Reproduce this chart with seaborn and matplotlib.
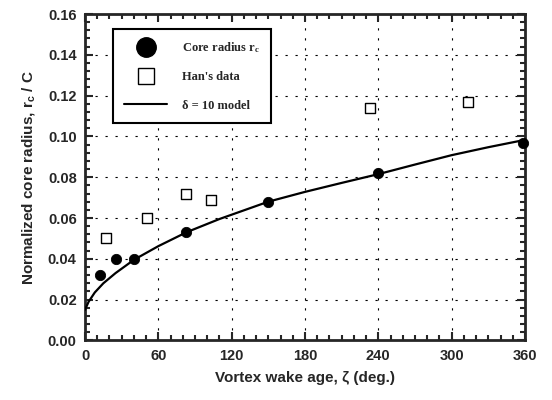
import pandas as pd
import seaborn as sns
import matplotlib.pyplot as plt
from matplotlib.lines import Line2D
from matplotlib.ticker import MultipleLocator, AutoMinorLocator

# values
core_age = [12, 25, 40, 83, 150, 240, 358]
core_r = [0.032, 0.040, 0.040, 0.053, 0.068, 0.082, 0.097]

han_age = [17, 51, 83, 103, 233, 313]
han_r = [0.050, 0.060, 0.072, 0.069, 0.114, 0.117]

model_age = [0, 3, 8, 15, 25, 40, 60, 83, 110, 150, 180, 210, 240, 270, 300, 330, 360]
model_r = [0.015, 0.019, 0.0235, 0.028, 0.033, 0.0395, 0.0462, 0.053, 0.0595,
           0.068, 0.0728, 0.0772, 0.0815, 0.0862, 0.0908, 0.0947, 0.0983]

sns.set_style('ticks')
plt.rcParams['font.family'] = ['Liberation Sans', 'DejaVu Sans']
plt.rcParams['mathtext.default'] = 'regular'

fig = plt.figure(figsize=(5.52, 4), dpi=100)
ax = fig.add_axes([0.154, 0.149, 0.797, 0.816])

core = pd.DataFrame({'age': core_age, 'r': core_r})
han = pd.DataFrame({'age': han_age, 'r': han_r})
model = pd.DataFrame({'age': model_age, 'r': model_r})

sns.lineplot(data=model, x='age', y='r', color='black', lw=1.6, ax=ax, zorder=3)
sns.scatterplot(data=core, x='age', y='r', color='black', s=55, edgecolor='black',
                ax=ax, zorder=4, clip_on=False)
sns.scatterplot(data=han, x='age', y='r', marker='s', s=50, facecolor='white',
                edgecolor='black', linewidth=1.0, ax=ax, zorder=4)

ax.set_xlim(0, 360)
ax.set_ylim(0, 0.16)
ax.xaxis.set_major_locator(MultipleLocator(60))
ax.xaxis.set_minor_locator(MultipleLocator(10))
ax.yaxis.set_major_locator(MultipleLocator(0.02))
ax.yaxis.set_minor_locator(AutoMinorLocator(5))
ax.set_yticklabels([f'{v:.2f}' for v in ax.get_yticks()])

ax.tick_params(which='both', direction='in', top=True, right=True, width=1.5)
ax.tick_params(which='major', length=6, labelsize=10.5, pad=6)
ax.tick_params(which='minor', length=3.5)
for lab in ax.get_xticklabels() + ax.get_yticklabels():
    lab.set_fontweight('bold')
for sp in ax.spines.values():
    sp.set_linewidth(2)

ax.grid(True, which='major', color='black', linestyle=(0, (2, 7)), lw=0.8)

ax.set_xlabel('Vortex wake age, ζ (deg.)', fontsize=11, fontweight='bold', labelpad=6)
ax.set_ylabel('Normalized core radius, r$_c$ / C', fontsize=11, fontweight='bold', labelpad=8)

handles = [
    Line2D([], [], marker='o', color='black', ls='none', markersize=14),
    Line2D([], [], marker='s', markerfacecolor='white', markeredgecolor='black',
           ls='none', markersize=11, markeredgewidth=1),
    Line2D([], [], color='black', lw=1.5),
]
labels = ['Core radius r$_c$', "Han's data", 'δ = 10 model']
leg = ax.legend(handles, labels, loc='upper left', bbox_to_anchor=(0.064, 0.954),
                frameon=True, fancybox=False, edgecolor='black', framealpha=1,
                prop={'family': 'Liberation Serif', 'weight': 'bold', 'size': 9},
                handlelength=3.4, handletextpad=1.2, borderpad=0.9, labelspacing=1.3,
                borderaxespad=0)
leg.get_frame().set_linewidth(1.5)
leg.set_zorder(5)

fig.savefig('out.png', dpi=100)
